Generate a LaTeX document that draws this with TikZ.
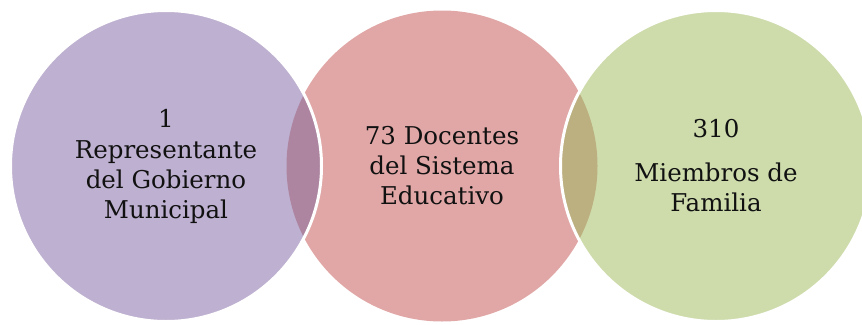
\documentclass[tikz,border=0pt]{standalone}
\usepackage{fontspec}
\setmainfont{DejaVu Serif}
\definecolor{purplec}{HTML}{BEB0D0}
\definecolor{pinkc}{HTML}{E0A7A6}
\definecolor{greenc}{HTML}{CEDCAC}
\definecolor{lensa}{HTML}{AD85A0}
\definecolor{lensb}{HTML}{BCB080}
\definecolor{txt}{HTML}{111111}
\tikzset{
  circ/.style={circle, inner sep=0pt, minimum size=311pt, align=center,
    text=txt, font=\fontsize{24.5}{30}\selectfont},
  outline/.style={draw=white, line width=3pt}
}
\begin{document}
\begin{tikzpicture}[x=1pt,y=-1pt]
\useasboundingbox (0,0) rectangle (862,324);
\clip (0,0) rectangle (862,324);
\node[circ, fill=pinkc] (c2) at (442,166) {73 Docentes\\del Sistema\\Educativo};
\node[circ, fill=purplec] (c1) at (166,166) {1\\[1pt]Representante\\del Gobierno\\Municipal};
\node[circ, fill=greenc] (c3) at (716,166) {310\\[14pt]Miembros de\\Familia};
\begin{scope}
  \clip (c2.center) circle[radius=155.5];
  \fill[lensa] (c1.center) circle[radius=155.5];
  \fill[lensb] (c3.center) circle[radius=155.5];
\end{scope}
\draw[outline] (c1.center) circle[radius=155.5];
\draw[outline] (c3.center) circle[radius=155.5];
\end{tikzpicture}
\end{document}
